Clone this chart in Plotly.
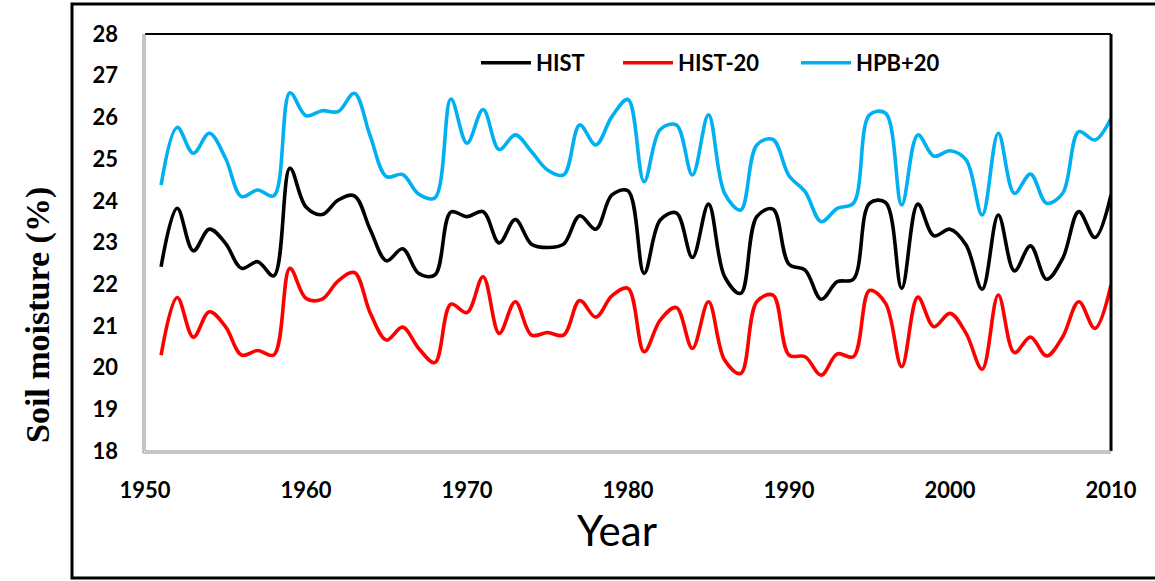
import plotly.graph_objects as go

years = list(range(1951, 2011))

hist = [22.42, 23.82, 22.80, 23.32, 22.98, 22.38, 22.54, 22.20, 24.78, 23.85,
        23.67, 24.02, 24.12, 23.30, 22.56, 22.85, 22.26, 22.22, 23.73, 23.62,
        23.74, 22.99, 23.55, 22.96, 22.88, 22.96, 23.64, 23.32, 24.14, 24.24,
        22.26, 23.54, 23.71, 22.64, 23.92, 22.18, 21.78, 23.62, 23.80, 22.48,
        22.34, 21.64, 22.06, 22.12, 23.94, 23.96, 21.90, 23.92, 23.16, 23.32,
        22.94, 21.88, 23.66, 22.32, 22.92, 22.12, 22.62, 23.74, 23.12, 24.14]

hist_20 = [20.30, 21.68, 20.73, 21.34, 20.98, 20.30, 20.41, 20.30, 22.38, 21.66,
           21.64, 22.08, 22.28, 21.30, 20.66, 20.97, 20.46, 20.12, 21.52, 21.32,
           22.18, 20.82, 21.58, 20.78, 20.84, 20.78, 21.61, 21.21, 21.72, 21.90,
           20.38, 21.14, 21.44, 20.46, 21.58, 20.18, 19.86, 21.58, 21.74, 20.30,
           20.26, 19.82, 20.33, 20.26, 21.85, 21.54, 20.02, 21.69, 20.98, 21.30,
           20.82, 19.96, 21.74, 20.36, 20.73, 20.28, 20.74, 21.58, 20.94, 21.98]

hpb_20 = [24.38, 25.76, 25.14, 25.62, 25.02, 24.10, 24.26, 24.12, 26.59, 26.04,
          26.16, 26.14, 26.58, 25.54, 24.58, 24.63, 24.16, 24.07, 26.44, 25.38,
          26.19, 25.23, 25.58, 25.18, 24.74, 24.62, 25.82, 25.34, 26.02, 26.43,
          24.46, 25.71, 25.82, 24.62, 26.06, 24.18, 23.78, 25.34, 25.47, 24.60,
          24.22, 23.50, 23.82, 23.94, 26.06, 26.10, 23.90, 25.58, 25.07, 25.20,
          24.98, 23.66, 25.62, 24.18, 24.64, 23.94, 24.18, 25.66, 25.46, 25.98]

series_names = ["HIST", "HIST-20", "HPB+20"]
series_colors = ["#000000", "#FF0000", "#00B0F0"]
x_ticks = [1950, 1960, 1970, 1980, 1990, 2000, 2010]
y_ticks = list(range(18, 29))

W, H = 1155, 581
L, R, T, B = 145, 44, 34, 130
PW, PH = W - L - R, H - T - B


def px_x(p):
    return (p - L) / PW


def px_y(p):
    return (H - B - p) / PH


fig = go.Figure()
legend_ids = ["legend", "legend2", "legend3"]
for name, vals, col, lg in zip(series_names, [hist, hist_20, hpb_20], series_colors, legend_ids):
    fig.add_trace(go.Scatter(
        x=years, y=vals, name=name, mode="lines",
        line=dict(color=col, width=3.6, shape="spline", smoothing=1.0),
        legend=lg,
    ))

tick_font = dict(family="Lato", size=22, color="#000000", weight="bold")
legend_font = dict(family="Lato", size=22, color="#000000", weight="bold")

legend_common = dict(orientation="h", yanchor="middle", y=px_y(63), xanchor="left",
                     bgcolor="rgba(0,0,0,0)", borderwidth=0, font=legend_font,
                     itemwidth=50)

fig.update_layout(
    width=W, height=H,
    margin=dict(l=L, r=R, t=T, b=B, pad=0),
    paper_bgcolor="white", plot_bgcolor="white",
    showlegend=True,
    legend=dict(x=px_x(476), **legend_common),
    legend2=dict(x=px_x(618), **legend_common),
    legend3=dict(x=px_x(796), **legend_common),
    xaxis=dict(range=[1950, 2010], tickvals=x_ticks, ticktext=[str(v) for v in x_ticks],
               showgrid=False, zeroline=False, showline=False, ticks="",
               tickfont=tick_font, ticklabelstandoff=24),
    yaxis=dict(range=[18, 28], tickvals=y_ticks, ticktext=[str(v) for v in y_ticks],
               showgrid=False, zeroline=False, showline=False, ticks="",
               tickfont=tick_font, ticklabelstandoff=26),
)

shapes = [
    # outer frame
    dict(type="rect", xref="paper", yref="paper", x0=px_x(72), x1=px_x(1165),
         y0=px_y(578), y1=px_y(4), line=dict(color="black", width=3), layer="below"),
    # plot frame: top and right black
    dict(type="line", xref="paper", yref="paper", x0=0, x1=1, y0=1, y1=1,
         line=dict(color="black", width=2)),
    dict(type="line", xref="paper", yref="paper", x0=1, x1=1, y0=0, y1=1,
         line=dict(color="black", width=3)),
    # left and bottom grey double lines
    dict(type="line", xref="paper", yref="paper", x0=0, x1=0, y0=0, y1=1,
         line=dict(color="#8c8c8c", width=1)),
    dict(type="line", xref="paper", yref="paper", x0=px_x(L - 2), x1=px_x(L - 2),
         y0=px_y(H - B + 2), y1=1, line=dict(color="#8c8c8c", width=1)),
    dict(type="line", xref="paper", yref="paper", x0=0, x1=1, y0=0, y1=0,
         line=dict(color="#8c8c8c", width=1)),
    dict(type="line", xref="paper", yref="paper", x0=px_x(L - 2), x1=1,
         y0=px_y(H - B + 2), y1=px_y(H - B + 2), line=dict(color="#8c8c8c", width=1)),
]
fig.update_layout(shapes=shapes)

fig.add_annotation(text="Soil moisture (%)", xref="paper", yref="paper",
                   x=px_x(38), y=px_y(315), textangle=-90, showarrow=False,
                   font=dict(family="Liberation Serif", size=34, color="black", weight="bold"),
                   xanchor="center", yanchor="middle")
fig.add_annotation(text="Year", xref="paper", yref="paper",
                   x=px_x(617), y=px_y(530), showarrow=False,
                   font=dict(family="Lato", size=42, color="black"),
                   xanchor="center", yanchor="middle")

fig.write_html("out.html")
